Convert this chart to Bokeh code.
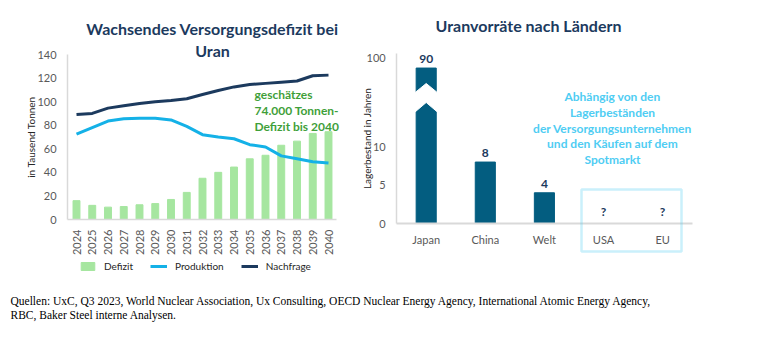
import math
from bokeh.plotting import figure
from bokeh.models import (Legend, LegendItem, Label, BoxAnnotation, LinearAxis,
                          FixedTicker, Range1d)
from bokeh.embed import file_html
from bokeh.resources import INLINE
from bokeh.core.properties import value

# ---------------- data ----------------
years = list(range(2024, 2041))
defizit = [16, 12, 10.5, 11, 12.5, 13.5, 17, 23, 35, 40, 44.5, 51.5, 54.5, 63, 66.5, 73, 74.5]
produktion = [72.5, 78, 83.5, 85.5, 86, 86, 84.5, 79, 72, 70, 68.5, 63.5, 61.5, 54, 51.5, 49, 48]
nachfrage = [89, 90, 94.5, 96.5, 98.5, 100, 101, 102.5, 106, 109.5, 112.5, 114.5, 115.5, 116.5, 117.5, 122, 122.5]
y_ticks_left = [0, 20, 40, 60, 80, 100, 120, 140]

laender = ["Japan", "China", "Welt", "USA", "EU"]
vorrat = [90, 8, 4, None, None]
vorrat_labels = ["90", "8", "4", "?", "?"]
y_ticks_right = [0, 5, 10, 100]

title_left = ["Wachsendes Versorgungsdefizit bei", "Uran"]
title_right = "Uranvorräte nach Ländern"
note_left = ["geschätzes", "74.000 Tonnen-", "Defizit bis 2040"]
note_right = ["Abhängig von den", "Lagerbeständen", "der Versorgungsunternehmen",
              "und den Käufen auf dem", "Spotmarkt"]
footer = ["Quellen: UxC, Q3 2023, World Nuclear Association, Ux Consulting, OECD Nuclear Energy Agency, "
          "International Atomic Energy Agency,",
          "RBC, Baker Steel interne Analysen."]

# ---------------- styles ----------------
NAVY = "#1c3a5e"
SKY = "#14b1e7"
GREEN_BAR = "#a6e6a0"
GREEN_TXT = "#3f9f3a"
TEAL = "#035d80"
LIGHTBLUE = "#4fcdf3"
AXIS_GRAY = "#d9d9d9"
LABEL_GRAY = "#595959"
FONT = "Lato"
W, H = 758, 350

# page coordinates (pixels from the top-left) for free texts
p = figure(width=W, height=H, x_range=Range1d(0, W), y_range=Range1d(H, 0),
           output_backend="svg", toolbar_location=None, title=None,
           x_axis_location=None, y_axis_location=None,
           min_border_left=0, min_border_right=0, min_border_top=0, min_border_bottom=0)
p.outline_line_color = None
p.grid.visible = False

# ---------------- left chart ranges ----------------
lx_px0, lx_step = 76.0, 15.75      # pixel of first year, pixels per year
ly_px0, ly_scale = 219.0, 165.0 / 140.0  # pixel of 0, pixels per unit
lx_start = years[0] - lx_px0 / lx_step
p.extra_x_ranges["lx"] = Range1d(lx_start, lx_start + W / lx_step)
p.extra_y_ranges["ly"] = Range1d((ly_px0 - H) / ly_scale, ly_px0 / ly_scale)

bars = p.vbar(x=years, top=defizit, width=0.44, color=GREEN_BAR,
              x_range_name="lx", y_range_name="ly")
lp = p.line(years, produktion, line_width=3, color=SKY, x_range_name="lx", y_range_name="ly")
ln = p.line(years, nachfrage, line_width=3, color=NAVY, x_range_name="lx", y_range_name="ly")

l_left = years[0] - 0.57
l_right = years[-1] + 0.51
ly_axis = LinearAxis(x_range_name="lx", y_range_name="ly", fixed_location=l_left,
                     bounds=(0, 140), ticker=FixedTicker(ticks=y_ticks_left),
                     axis_label="in Tausend Tonnen")
lx_axis = LinearAxis(x_range_name="lx", y_range_name="ly", fixed_location=0,
                     bounds=(l_left, l_right), ticker=FixedTicker(ticks=years))
lx_axis.major_label_orientation = math.pi / 2
lx_axis.major_label_standoff = 4
ly_axis.axis_label_standoff = -3

# ---------------- right chart ranges ----------------
BREAK_SCALE = 0.128


def disp(v):
    return v if v <= 10 else round(10 + (v - 10) * BREAK_SCALE, 3)


rx_px0, rx_step = 425.7, 59.1
ry_px0, ry_scale = 223.0, 7.68
rx_start = -rx_px0 / rx_step
p.extra_x_ranges["rx"] = Range1d(rx_start, rx_start + W / rx_step)
p.extra_y_ranges["ry"] = Range1d((ry_px0 - H) / ry_scale, ry_px0 / ry_scale)

idx = list(range(len(laender)))
bar_x = [i for i, v in zip(idx, vorrat) if v is not None]
bar_top = [disp(v) for v in vorrat if v is not None]
p.vbar(x=bar_x, top=bar_top, width=0.34, color=TEAL, x_range_name="rx", y_range_name="ry")

# scale-break chevron on the Japan bar
hw = 0.2
p.patch([-hw, 0, hw, hw, 0, -hw], [16.97, 18.23, 16.97, 14.45, 15.76, 14.45],
        color="white", line_color="white", x_range_name="rx", y_range_name="ry")

lab_y = [disp(v) if v is not None else 0 for v in vorrat]
p.text(x=idx, y=lab_y, text=vorrat_labels, y_offset=-5, text_align="center",
       text_baseline="bottom", text_font_size="12px", text_font_style="bold",
       text_color=NAVY, text_font=value(FONT), x_range_name="rx", y_range_name="ry")

p.add_layout(BoxAnnotation(left=2.628, right=4.32, top=4.43, bottom=-3.65, fill_alpha=0,
                           line_color=LIGHTBLUE, line_width=2.5,
                           x_range_name="rx", y_range_name="ry"))

r_top = (ry_px0 - 53) / ry_scale
ry_axis = LinearAxis(x_range_name="rx", y_range_name="ry", fixed_location=-0.5,
                     bounds=(0, r_top), ticker=FixedTicker(ticks=[disp(t) for t in y_ticks_right]),
                     axis_label="Lagerbestand in Jahren")
ry_axis.major_label_overrides = {disp(t): str(t) for t in y_ticks_right}
ry_axis.axis_label_standoff = -10
rx_axis = LinearAxis(x_range_name="rx", y_range_name="ry", fixed_location=0,
                     bounds=(-0.5, 4.5), ticker=FixedTicker(ticks=idx))
rx_axis.major_label_overrides = {i: name for i, name in zip(idx, laender)}
rx_axis.major_label_standoff = 3

for ax in (ly_axis, lx_axis, ry_axis, rx_axis):
    ax.major_tick_line_color = None
    ax.minor_tick_line_color = None
    ax.axis_line_color = AXIS_GRAY
    ax.axis_line_width = 1.5
    ax.major_label_text_color = LABEL_GRAY
    ax.major_label_text_font = FONT
    ax.major_label_text_font_size = "11px"
    ax.axis_label_text_font_size = "10px"
    ax.axis_label_text_font_style = "normal"
    ax.axis_label_text_color = "#262626"
    ax.axis_label_text_font = FONT
rx_axis.axis_line_width = 2
p.add_layout(ly_axis, "left")
p.add_layout(ry_axis, "left")
p.add_layout(lx_axis, "below")
p.add_layout(rx_axis, "below")

# ---------------- texts ----------------
for txt, yy in zip(title_left, [28, 50]):
    p.add_layout(Label(x=212, y=yy, text=txt, text_align="center", text_baseline="middle",
                       text_font_size="16px", text_font_style="bold", text_color=NAVY,
                       text_font=FONT))
p.add_layout(Label(x=528, y=25, text=title_right, text_align="center", text_baseline="middle",
                   text_font_size="16px", text_font_style="bold", text_color=NAVY,
                   text_font=FONT))
for txt, yy in zip(note_left, [94, 110, 125.5]):
    p.add_layout(Label(x=254, y=yy, text=txt, text_align="left", text_baseline="middle",
                       text_font_size="12px", text_font_style="bold", text_color=GREEN_TXT,
                       text_font=FONT))
for txt, yy in zip(note_right, [96, 112, 127.5, 143, 159]):
    p.add_layout(Label(x=612, y=yy, text=txt, text_align="center", text_baseline="middle",
                       text_font_size="12px", text_font_style="bold", text_color=LIGHTBLUE,
                       text_font=FONT))
for txt, yy in zip(footer, [300, 314]):
    p.add_layout(Label(x=10, y=yy, text=txt, text_align="left", text_baseline="middle",
                       text_font_size="11.5px", text_color="black",
                       text_font="Liberation Serif"))

legend = Legend(items=[LegendItem(label="Defizit", renderers=[bars]),
                       LegendItem(label="Produktion", renderers=[lp]),
                       LegendItem(label="Nachfrage", renderers=[ln])],
                orientation="horizontal", location=(79, 78), border_line_color=None,
                background_fill_alpha=0,
                label_text_font_size="10px", label_text_font=FONT, label_text_color="#262626",
                glyph_width=17, glyph_height=10, spacing=17, margin=0, padding=4,
                label_standoff=8)
p.add_layout(legend)

open("out.html", "w").write(file_html(p, INLINE))
